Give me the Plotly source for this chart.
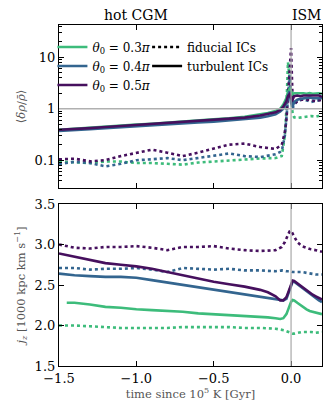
import plotly.graph_objects as go
from plotly.subplots import make_subplots

# ---------------- data ----------------
t_solid = [-1.5, -1.45, -1.4, -1.3, -1.2, -1.1, -1.0, -0.9, -0.8, -0.7, -0.6, -0.5, -0.4, -0.3,
           -0.2, -0.15, -0.1, -0.07, -0.05, -0.03, -0.02, -0.01, 0.0, 0.01, 0.02, 0.04, 0.06,
           0.08, 0.1, 0.12, 0.14, 0.16, 0.18, 0.2]
t_dot = [-1.5, -1.4, -1.3, -1.2, -1.1, -1.0, -0.9, -0.8, -0.7, -0.6, -0.5, -0.4, -0.3, -0.2,
         -0.1, -0.06, -0.04, -0.03, -0.02, -0.01, 0.0, 0.01, 0.02, 0.04, 0.07, 0.1, 0.13, 0.16, 0.2]

labels = ["0.3", "0.4", "0.5"]
colors = ["#3dbc7b", "#33658f", "#46105e"]

# density contrast, turbulent ICs (solid)
drho_turb_03 = [0.39, 0.40, 0.41, 0.43, 0.45, 0.47, 0.49, 0.51, 0.54, 0.57, 0.59, 0.62, 0.65, 0.70,
                0.78, 0.82, 0.90, 1.0, 1.2, 1.6, 2.1, 2.4, 2.2, 1.9, 2.0, 2.0, 2.05, 2.0, 1.95, 2.0,
                1.95, 2.0, 2.0, 1.95]
drho_turb_04 = [0.37, 0.375, 0.38, 0.40, 0.42, 0.44, 0.46, 0.48, 0.50, 0.52, 0.54, 0.56, 0.59, 0.62,
                0.67, 0.71, 0.78, 0.88, 1.0, 1.3, 1.8, 2.2, 1.3, 1.1, 1.35, 1.5, 1.55, 1.6, 1.6, 1.65,
                1.6, 1.6, 1.55, 1.6]
drho_turb_05 = [0.39, 0.395, 0.40, 0.42, 0.44, 0.46, 0.48, 0.50, 0.52, 0.55, 0.57, 0.60, 0.63, 0.67,
                0.74, 0.78, 0.85, 0.95, 1.1, 1.4, 1.75, 1.9, 1.6, 1.5, 1.75, 1.8, 1.75, 1.8, 1.8, 1.75,
                1.8, 1.75, 1.8, 1.7]

# density contrast, fiducial ICs (dotted)
drho_fid_03 = [0.094, 0.09, 0.088, 0.094, 0.094, 0.088, 0.088, 0.085, 0.082, 0.09, 0.095, 0.10,
               0.103, 0.108, 0.11, 0.12, 0.3, 1.0, 8.0, 4.0, 1.5, 0.8, 0.68, 0.66, 0.68, 0.70,
               0.72, 0.70, 0.75]
drho_fid_04 = [0.084, 0.093, 0.088, 0.076, 0.085, 0.10, 0.104, 0.11, 0.10, 0.11, 0.125, 0.135,
               0.12, 0.115, 0.13, 0.15, 0.3, 0.6, 1.5, 4.5, 2.0, 1.0, 1.2, 1.4, 1.5, 1.45, 1.35,
               1.4, 1.5]
drho_fid_05 = [0.104, 0.107, 0.095, 0.10, 0.12, 0.14, 0.16, 0.14, 0.12, 0.14, 0.17, 0.20, 0.21,
               0.18, 0.165, 0.2, 0.35, 0.6, 1.8, 6.0, 15.0, 1.5, 1.2, 1.4, 1.5, 1.5, 1.45, 1.4, 1.5]

# specific angular momentum, turbulent ICs (solid)
jz_turb_03 = [None, 2.28, 2.28, 2.26, 2.23, 2.22, 2.20, 2.19, 2.18, 2.17, 2.15, 2.14, 2.13, 2.12,
              2.11, 2.10, 2.09, 2.08, 2.09, 2.14, 2.19, 2.25, 2.29, 2.315, 2.31, 2.28, 2.25, 2.22,
              2.20, 2.18, 2.17, 2.16, 2.15, 2.14]
jz_turb_04 = [2.64, 2.63, 2.62, 2.61, 2.60, 2.60, 2.59, 2.56, 2.53, 2.50, 2.47, 2.44, 2.41, 2.38,
              2.35, 2.34, 2.32, 2.31, 2.31, 2.33, 2.38, 2.44, 2.50, 2.54, 2.54, 2.51, 2.48, 2.45,
              2.42, 2.39, 2.37, 2.34, 2.31, 2.29]
jz_turb_05 = [2.89, 2.87, 2.85, 2.81, 2.77, 2.75, 2.73, 2.70, 2.66, 2.62, 2.58, 2.54, 2.51, 2.48,
              2.44, 2.41, 2.36, 2.31, 2.31, 2.35, 2.40, 2.46, 2.52, 2.555, 2.55, 2.52, 2.49, 2.46,
              2.43, 2.40, 2.38, 2.36, 2.34, 2.32]

# specific angular momentum, fiducial ICs (dotted)
jz_fid_03 = [2.0, 2.0, 1.99, 1.98, 1.97, 1.97, 1.97, 1.97, 1.98, 1.98, 1.98, 1.98, 1.97, 1.97,
             1.96, 1.95, 1.94, 1.93, 1.92, 1.91, 1.90, 1.90, 1.90, 1.91, 1.92, 1.92, 1.92, 1.91, 1.92]
jz_fid_04 = [2.71, 2.71, 2.69, 2.70, 2.70, 2.71, 2.69, 2.66, 2.71, 2.70, 2.69, 2.70, 2.68, 2.68,
             2.67, 2.68, 2.67, 2.67, 2.67, 2.67, 2.67, 2.66, 2.66, 2.66, 2.66, 2.65, 2.64, 2.63, 2.63]
jz_fid_05 = [3.0, 2.96, 2.95, 2.97, 2.97, 2.98, 2.96, 2.93, 2.97, 2.97, 2.98, 2.95, 2.93, 2.92,
             2.93, 2.97, 3.03, 3.07, 3.12, 3.16, 3.17, 3.14, 3.10, 3.03, 2.98, 2.96, 2.94, 2.93, 2.91]

x_ticks = [-1.5, -1.0, -0.5, 0.0]
x_ticktext = ["\u22121.5", "\u22121.0", "\u22120.5", "0.0"]
y1_ticks = [0.1, 1, 10]
y1_ticktext = ["0.1", "1", "10"]
y2_ticks = [1.5, 2.0, 2.5, 3.0, 3.5]

# ---------------- figure ----------------
W, H = 332, 417
ml, mr, mt, mb = 59, 10, 25, 51
ph = H - mt - mb
top_dom = [(H - mb - 188) / ph, 1.0]
bot_dom = [0.0, (H - mb - 204) / ph]

fig = make_subplots(rows=2, cols=1, shared_xaxes=False, vertical_spacing=0.05)

drho_turb = [drho_turb_03, drho_turb_04, drho_turb_05]
drho_fid = [drho_fid_03, drho_fid_04, drho_fid_05]
jz_turb = [jz_turb_03, jz_turb_04, jz_turb_05]
jz_fid = [jz_fid_03, jz_fid_04, jz_fid_05]

LW = 2.6
for i in range(3):
    fig.add_trace(go.Scatter(x=t_dot, y=drho_fid[i], mode="lines",
                             line=dict(color=colors[i], width=LW, dash="dot"),
                             showlegend=False), row=1, col=1)
    fig.add_trace(go.Scatter(x=t_dot, y=jz_fid[i], mode="lines",
                             line=dict(color=colors[i], width=LW, dash="dot"),
                             showlegend=False), row=2, col=1)
for i in range(3):
    fig.add_trace(go.Scatter(x=t_solid, y=drho_turb[i], mode="lines",
                             line=dict(color=colors[i], width=LW),
                             name="<i>θ</i><sub>0</sub> = " + labels[i] + "<i>π</i>",
                             legend="legend", showlegend=True), row=1, col=1)
    fig.add_trace(go.Scatter(x=t_solid, y=jz_turb[i], mode="lines",
                             line=dict(color=colors[i], width=LW),
                             showlegend=False, connectgaps=False), row=2, col=1)

# style legend entries
fig.add_trace(go.Scatter(x=[None], y=[None], mode="lines",
                         line=dict(color="black", width=LW, dash="dot"),
                         name="fiducial ICs", legend="legend2"), row=1, col=1)
fig.add_trace(go.Scatter(x=[None], y=[None], mode="lines",
                         line=dict(color="black", width=LW),
                         name="turbulent ICs", legend="legend2"), row=1, col=1)

# reference lines
fig.add_vline(x=0.0, line=dict(color="#a8a8a8", width=1.2), row=1, col=1)
fig.add_vline(x=0.0, line=dict(color="#a8a8a8", width=1.2), row=2, col=1)
fig.add_hline(y=1, line=dict(color="#b0b0b0", width=1.5), row=1, col=1)

tickfont = dict(family="DejaVu Serif", size=13, color="black")
titlefont = dict(family="DejaVu Serif", size=11.5, color="#555555")
axis_common = dict(showline=True, linecolor="black", linewidth=1.2, mirror="allticks",
                   ticks="inside", ticklen=5, tickwidth=1, tickcolor="black",
                   showgrid=False, zeroline=False, tickfont=tickfont)

fig.update_xaxes(range=[-1.5, 0.2], tickvals=x_ticks, ticktext=x_ticktext, **axis_common)
fig.update_xaxes(showticklabels=False, row=1, col=1)
fig.update_xaxes(title=dict(text="time since 10<sup>5</sup> K [Gyr]", font=titlefont, standoff=4),
                 row=2, col=1)

fig.update_yaxes(type="log", range=[-1.54, 1.625], tickvals=y1_ticks, ticktext=y1_ticktext,
                 minor=dict(ticks="inside", ticklen=3, tickcolor="black", dtick="D1", showgrid=False),
                 title=dict(text="⟨<i>δρ</i>/<i>ρ̄</i>⟩", font=titlefont, standoff=6),
                 row=1, col=1, **axis_common)
fig.update_yaxes(range=[1.5, 3.5], tickvals=y2_ticks, tickformat=".1f",
                 title=dict(text="<i>j<sub>z</sub></i> [1000 kpc km s<sup>−1</sup>]",
                            font=titlefont, standoff=6),
                 row=2, col=1, **axis_common)

fig.update_layout(
    xaxis=dict(domain=[0, 1]), xaxis2=dict(domain=[0, 1]),
    yaxis=dict(domain=top_dom), yaxis2=dict(domain=bot_dom),
)

legend_font = dict(family="DejaVu Serif", size=12, color="black")
fig.update_layout(
    width=W, height=H,
    margin=dict(l=ml, r=mr, t=mt, b=mb),
    paper_bgcolor="white", plot_bgcolor="white",
    legend=dict(x=-0.025, y=0.978, xanchor="left", yanchor="top", bgcolor="rgba(0,0,0,0)",
                font=legend_font, tracegroupgap=0, itemwidth=30),
    legend2=dict(x=0.335, y=0.978, xanchor="left", yanchor="top", bgcolor="rgba(0,0,0,0)",
                 font=legend_font, tracegroupgap=0, itemwidth=30),
    annotations=[
        dict(text="hot CGM", x=-1.0, xref="x", y=1.0, yref="paper", yanchor="bottom",
             showarrow=False, font=dict(family="DejaVu Serif", size=14, color="black")),
        dict(text="ISM", x=0.1, xref="x", y=1.0, yref="paper", yanchor="bottom",
             showarrow=False, font=dict(family="DejaVu Serif", size=14, color="black")),
    ],
)

fig.write_html("out.html", config={"displayModeBar": False},
               post_script="document.body.style.margin='0';")
